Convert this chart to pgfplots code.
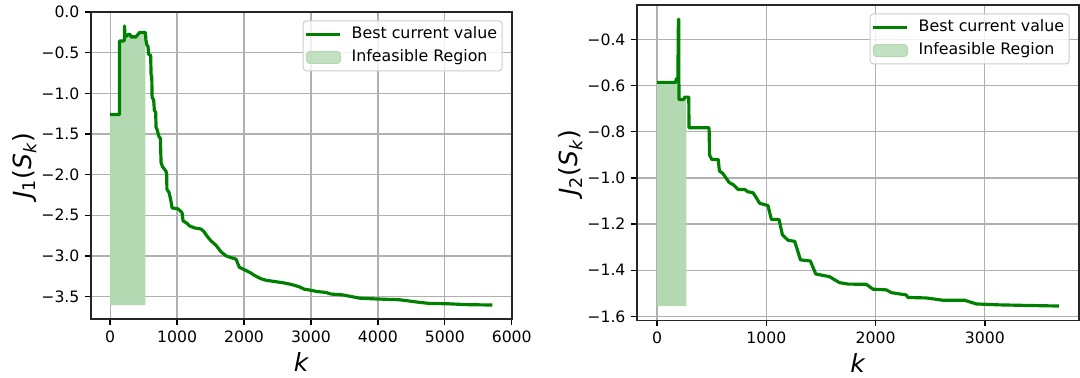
\documentclass[border=0pt]{standalone}
\usepackage{fontspec}
\setmainfont{DejaVu Sans}
\usepackage{pgfplots}
\pgfplotsset{compat=1.18}
\definecolor{lgreen}{RGB}{0,128,0}
\definecolor{fgreen}{RGB}{179,217,179}
\definecolor{gridc}{RGB}{176,176,176}
\definecolor{legc}{RGB}{204,204,204}
\pgfplotsset{mystyle/.style={
  scale only axis, anchor=south west,
  axis line style={line width=0.8pt, black!85},
  grid=major, major grid style={gridc, line width=0.75pt},
  tick style={black, line width=0.8pt},
  tick align=outside, major tick length=3.4pt, tick pos=left,
  ticklabel style={font=\fontsize{9.4}{11}\selectfont},
  every axis y label/.style={at={(axis description cs:0,0.5)}, xshift=-40pt, anchor=center, rotate=90, font=\fontsize{15}{18}\selectfont},
  every axis x label/.style={at={(axis description cs:0.5,0)}, yshift=-31.2pt, anchor=base, font=\fontsize{15}{18}\selectfont},
  legend style={at={(1,1)}, xshift=-5.6pt, yshift=-5pt, anchor=north east,
    draw=legc, line width=0.6pt, rounded corners=2pt, fill=white, fill opacity=0.8, text opacity=1,
    font=\fontsize{9.5}{11}\selectfont, inner sep=1pt, column sep=3.8pt,
    nodes={inner sep=2pt, text height=7.5pt, text depth=2.5pt}},
  legend cell align=left,
  legend image code/.code={\draw[#1] (0pt,0pt) -- (20.4pt,0pt);},
}}
\begin{document}
\begin{tikzpicture}
\path (0,0) rectangle (648pt,224.4pt);
% ---------- left ----------
\begin{axis}[mystyle, at={(54.6pt,33pt)}, width=252.6pt, height=184.2pt,
  xmin=-286, xmax=6004, ymin=-3.777, ymax=0.002,
  xtick={0,1000,2000,3000,4000,5000,6000},
  xticklabels={0,1000,2000,3000,4000,5000,6000},
  ytick={-3.5,-3,-2.5,-2,-1.5,-1,-0.5,0},
  yticklabels={−3.5,−3.0,−2.5,−2.0,−1.5,−1.0,−0.5,0.0},
  xlabel={\textit{k}},
  ylabel={\textit{J}\textsubscript{1}(\textit{S}\textsubscript{\textit{k}})}]
\addplot[fill=fgreen, draw=none, forget plot] coordinates {
(0,-3.605) (0,-1.26) (139,-1.26) (139,-0.355) (205,-0.355) (213,-0.34) (215,-0.17) (222,-0.29) (240,-0.30) (260,-0.28) (290,-0.27) (320,-0.31) (350,-0.30) (375,-0.31) (400,-0.29) (440,-0.25) (527,-0.25) (527,-3.605)};
\addplot[lgreen, line width=1.9pt, line join=round] coordinates {
(0,-1.26) (139,-1.26) (139,-0.355) (205,-0.355) (213,-0.34) (215,-0.17) (222,-0.29) (240,-0.30) (260,-0.28) (290,-0.27) (320,-0.31) (350,-0.30) (375,-0.31) (400,-0.29) (440,-0.25) (527,-0.25)
(535,-0.35) (548,-0.40) (565,-0.42) (575,-0.52) (605,-0.53) (612,-0.77) (622,-0.80) (627,-1.05) (650,-1.08) (661,-1.21) (680,-1.23) (686,-1.42) (700,-1.44) (725,-1.52) (736,-1.54) (750,-1.55) (761,-1.85) (780,-1.90) (810,-1.93) (835,-1.96) (845,-2.0) (848,-2.18) (880,-2.22) (905,-2.31) (925,-2.41) (1010,-2.42) (1040,-2.44) (1075,-2.47) (1090,-2.57) (1150,-2.60) (1184,-2.63) (1258,-2.655) (1358,-2.67) (1400,-2.70) (1433,-2.74) (1470,-2.78) (1507,-2.815) (1582,-2.87) (1657,-2.95) (1731,-3.00) (1800,-3.02) (1881,-3.04) (1910,-3.10) (1930,-3.14) (2030,-3.18) (2100,-3.21) (2154,-3.24) (2250,-3.28) (2328,-3.30) (2576,-3.33) (2700,-3.35) (2825,-3.38) (2900,-3.41) (2975,-3.42) (3100,-3.44) (3224,-3.45) (3300,-3.47) (3472,-3.48) (3600,-3.50) (3721,-3.52) (3970,-3.53) (4318,-3.54) (4418,-3.55) (4600,-3.57) (4766,-3.585) (5064,-3.59) (5313,-3.60) (5711,-3.605)};
\addlegendentry{Best current value}
\addlegendimage{legend image code/.code={\fill[fgreen] (0pt,-3.6pt) rectangle (20.4pt,3.6pt);}}
\addlegendentry{Infeasible Region}
\end{axis}
% ---------- right ----------
\begin{axis}[mystyle, at={(382.2pt,32.2pt)}, width=265.2pt, height=189.2pt,
  xmin=-184, xmax=3862, ymin=-1.617, ymax=-0.251,
  xtick={0,1000,2000,3000},
  xticklabels={0,1000,2000,3000},
  ytick={-1.6,-1.4,-1.2,-1.0,-0.8,-0.6,-0.4},
  yticklabels={−1.6,−1.4,−1.2,−1.0,−0.8,−0.6,−0.4},
  xlabel={\textit{k}},
  ylabel={\textit{J}\textsubscript{2}(\textit{S}\textsubscript{\textit{k}})}]
\addplot[fill=fgreen, draw=none, forget plot] coordinates {
(0,-1.555) (0,-0.586) (171,-0.586) (176,-0.57) (190,-0.57) (195,-0.313) (198,-0.313) (200,-0.66) (245,-0.66) (253,-0.65) (269,-0.65) (269,-1.555)};
\addplot[lgreen, line width=1.9pt, line join=round] coordinates {
(0,-0.586) (171,-0.586) (176,-0.57) (190,-0.57) (195,-0.313) (198,-0.313) (200,-0.66) (245,-0.66) (253,-0.65) (290,-0.65) (292,-0.783) (476,-0.783) (480,-0.90) (500,-0.92) (560,-0.92) (570,-0.97) (600,-0.98) (630,-1.0) (660,-1.02) (700,-1.03) (740,-1.05) (802,-1.05) (830,-1.06) (878,-1.064) (900,-1.08) (939,-1.11) (1015,-1.12) (1046,-1.18) (1116,-1.18) (1147,-1.247) (1199,-1.27) (1260,-1.275) (1312,-1.355) (1403,-1.36) (1452,-1.416) (1580,-1.428) (1620,-1.44) (1671,-1.454) (1750,-1.46) (1915,-1.461) (1976,-1.482) (2098,-1.485) (2144,-1.497) (2281,-1.507) (2296,-1.518) (2465,-1.52) (2617,-1.53) (2815,-1.53) (2922,-1.546) (3135,-1.55) (3440,-1.553) (3678,-1.555)};
\addlegendentry{Best current value}
\addlegendimage{legend image code/.code={\fill[fgreen] (0pt,-3.6pt) rectangle (20.4pt,3.6pt);}}
\addlegendentry{Infeasible Region}
\end{axis}
\end{tikzpicture}
\end{document}
